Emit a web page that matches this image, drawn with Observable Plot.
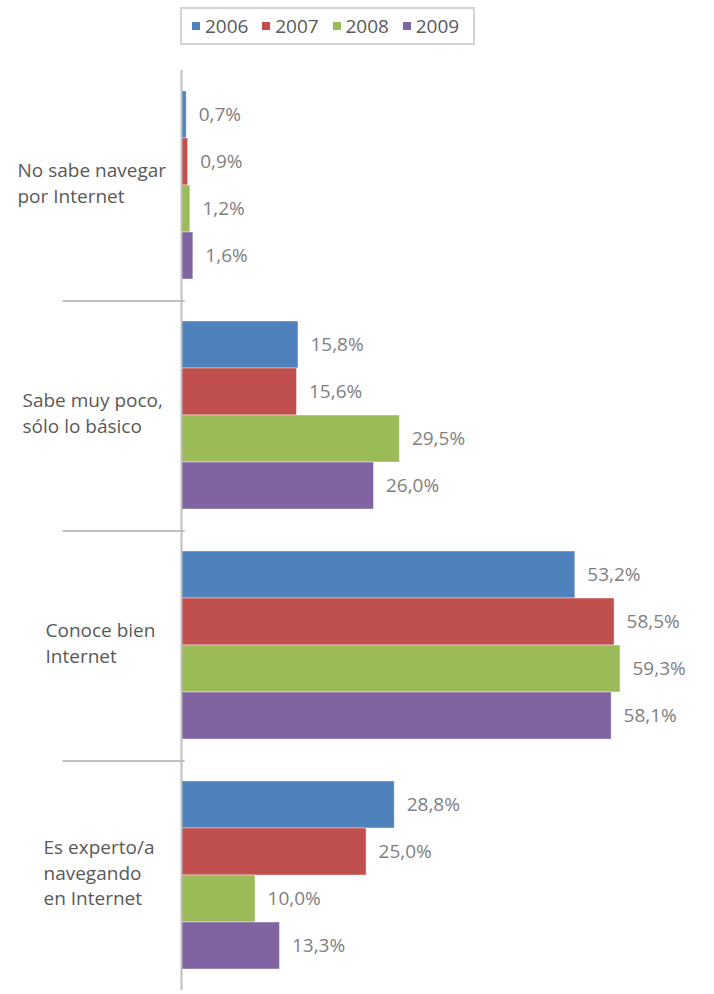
<!DOCTYPE html>
<html><head><meta charset="utf-8">
<script src="https://cdn.jsdelivr.net/npm/d3@7"></script>
<script src="https://cdn.jsdelivr.net/npm/@observablehq/plot@0.6"></script>
<style>
body{margin:0;background:#fff;font-family:"Open Sans",sans-serif;}
#wrap{position:relative;width:714px;height:994px;}
#legend{position:absolute;left:180px;top:7px;width:295px;height:38px;box-sizing:border-box;border:2px solid #d4d4d4;display:flex;align-items:center;padding-left:10px;}
.item{display:flex;align-items:center;width:72px;color:#595959;font-size:19px;}
.sw{width:8px;height:8px;margin-right:5px;}
#chart{position:absolute;left:0;top:0;}
</style></head><body>
<div id="wrap"><div id="chart"></div><div id="legend"></div></div>
<script>
const categories = ["No sabe navegar\npor Internet", "Sabe muy poco,\nsólo lo básico", "Conoce bien\nInternet", "Es experto/a\nnavegando\nen Internet"];
const years = ["2006", "2007", "2008", "2009"];
const values2006 = [0.7, 15.8, 53.2, 28.8];
const values2007 = [0.9, 15.6, 58.5, 25.0];
const values2008 = [1.2, 29.5, 59.3, 10.0];
const values2009 = [1.6, 26.0, 58.1, 13.3];
const colors = ["#4f81bd", "#c0504d", "#9bbb59", "#8064a2"];

const series = [values2006, values2007, values2008, values2009];
const data = [];
categories.forEach((c, i) => years.forEach((y, j) => data.push({category: c, year: y, value: series[j][i]})));
const fmt = v => v.toFixed(1).replace(".", ",") + "%";

// label indentation (style) per category
const indent = [-164, -159, -136, -138];

const labelMarks = categories.map((c, i) => Plot.text([c], {
  fy: d => d, text: d => d, frameAnchor: "left", textAnchor: "start",
  dx: indent[i], dy: -4, lineHeight: 1.35, fontSize: 19, fill: "#595959"
}));

const plot = Plot.plot({
  width: 714, height: 994,
  marginTop: 70, marginBottom: 4, marginLeft: 181, marginRight: 0,
  style: {fontFamily: "Open Sans", background: "transparent", overflow: "visible"},
  x: {domain: [0, 72], axis: null},
  fy: {domain: categories, padding: 0, axis: null},
  y: {domain: years, paddingInner: 0, paddingOuter: 0.41, axis: null},
  color: {domain: years, range: colors},
  marks: [
    Plot.barX(data, {fy: "category", y: "year", x: "value", fill: "year", stroke: "#ffffff", strokeOpacity: 0.5, strokeWidth: 0.8}),
    Plot.text(data, {fy: "category", y: "year", x: "value", text: d => fmt(d.value), textAnchor: "start", dx: 12, fill: "#808080", fontSize: 19}),
    Plot.ruleX([0], {stroke: "#bfbfbf", strokeWidth: 2}),
    Plot.rect(categories.slice(1), {fy: d => d, x1: -16, x2: 0.5, insetBottom: 228, fill: "#bfbfbf"}),
    ...labelMarks
  ]
});
document.getElementById("chart").appendChild(plot);

const legend = document.getElementById("legend");
years.forEach((y, i) => {
  const it = document.createElement("div");
  it.className = "item";
  const sw = document.createElement("span");
  sw.className = "sw";
  sw.style.background = colors[i];
  it.appendChild(sw);
  it.appendChild(document.createTextNode(y));
  legend.appendChild(it);
});
</script>
</body></html>
